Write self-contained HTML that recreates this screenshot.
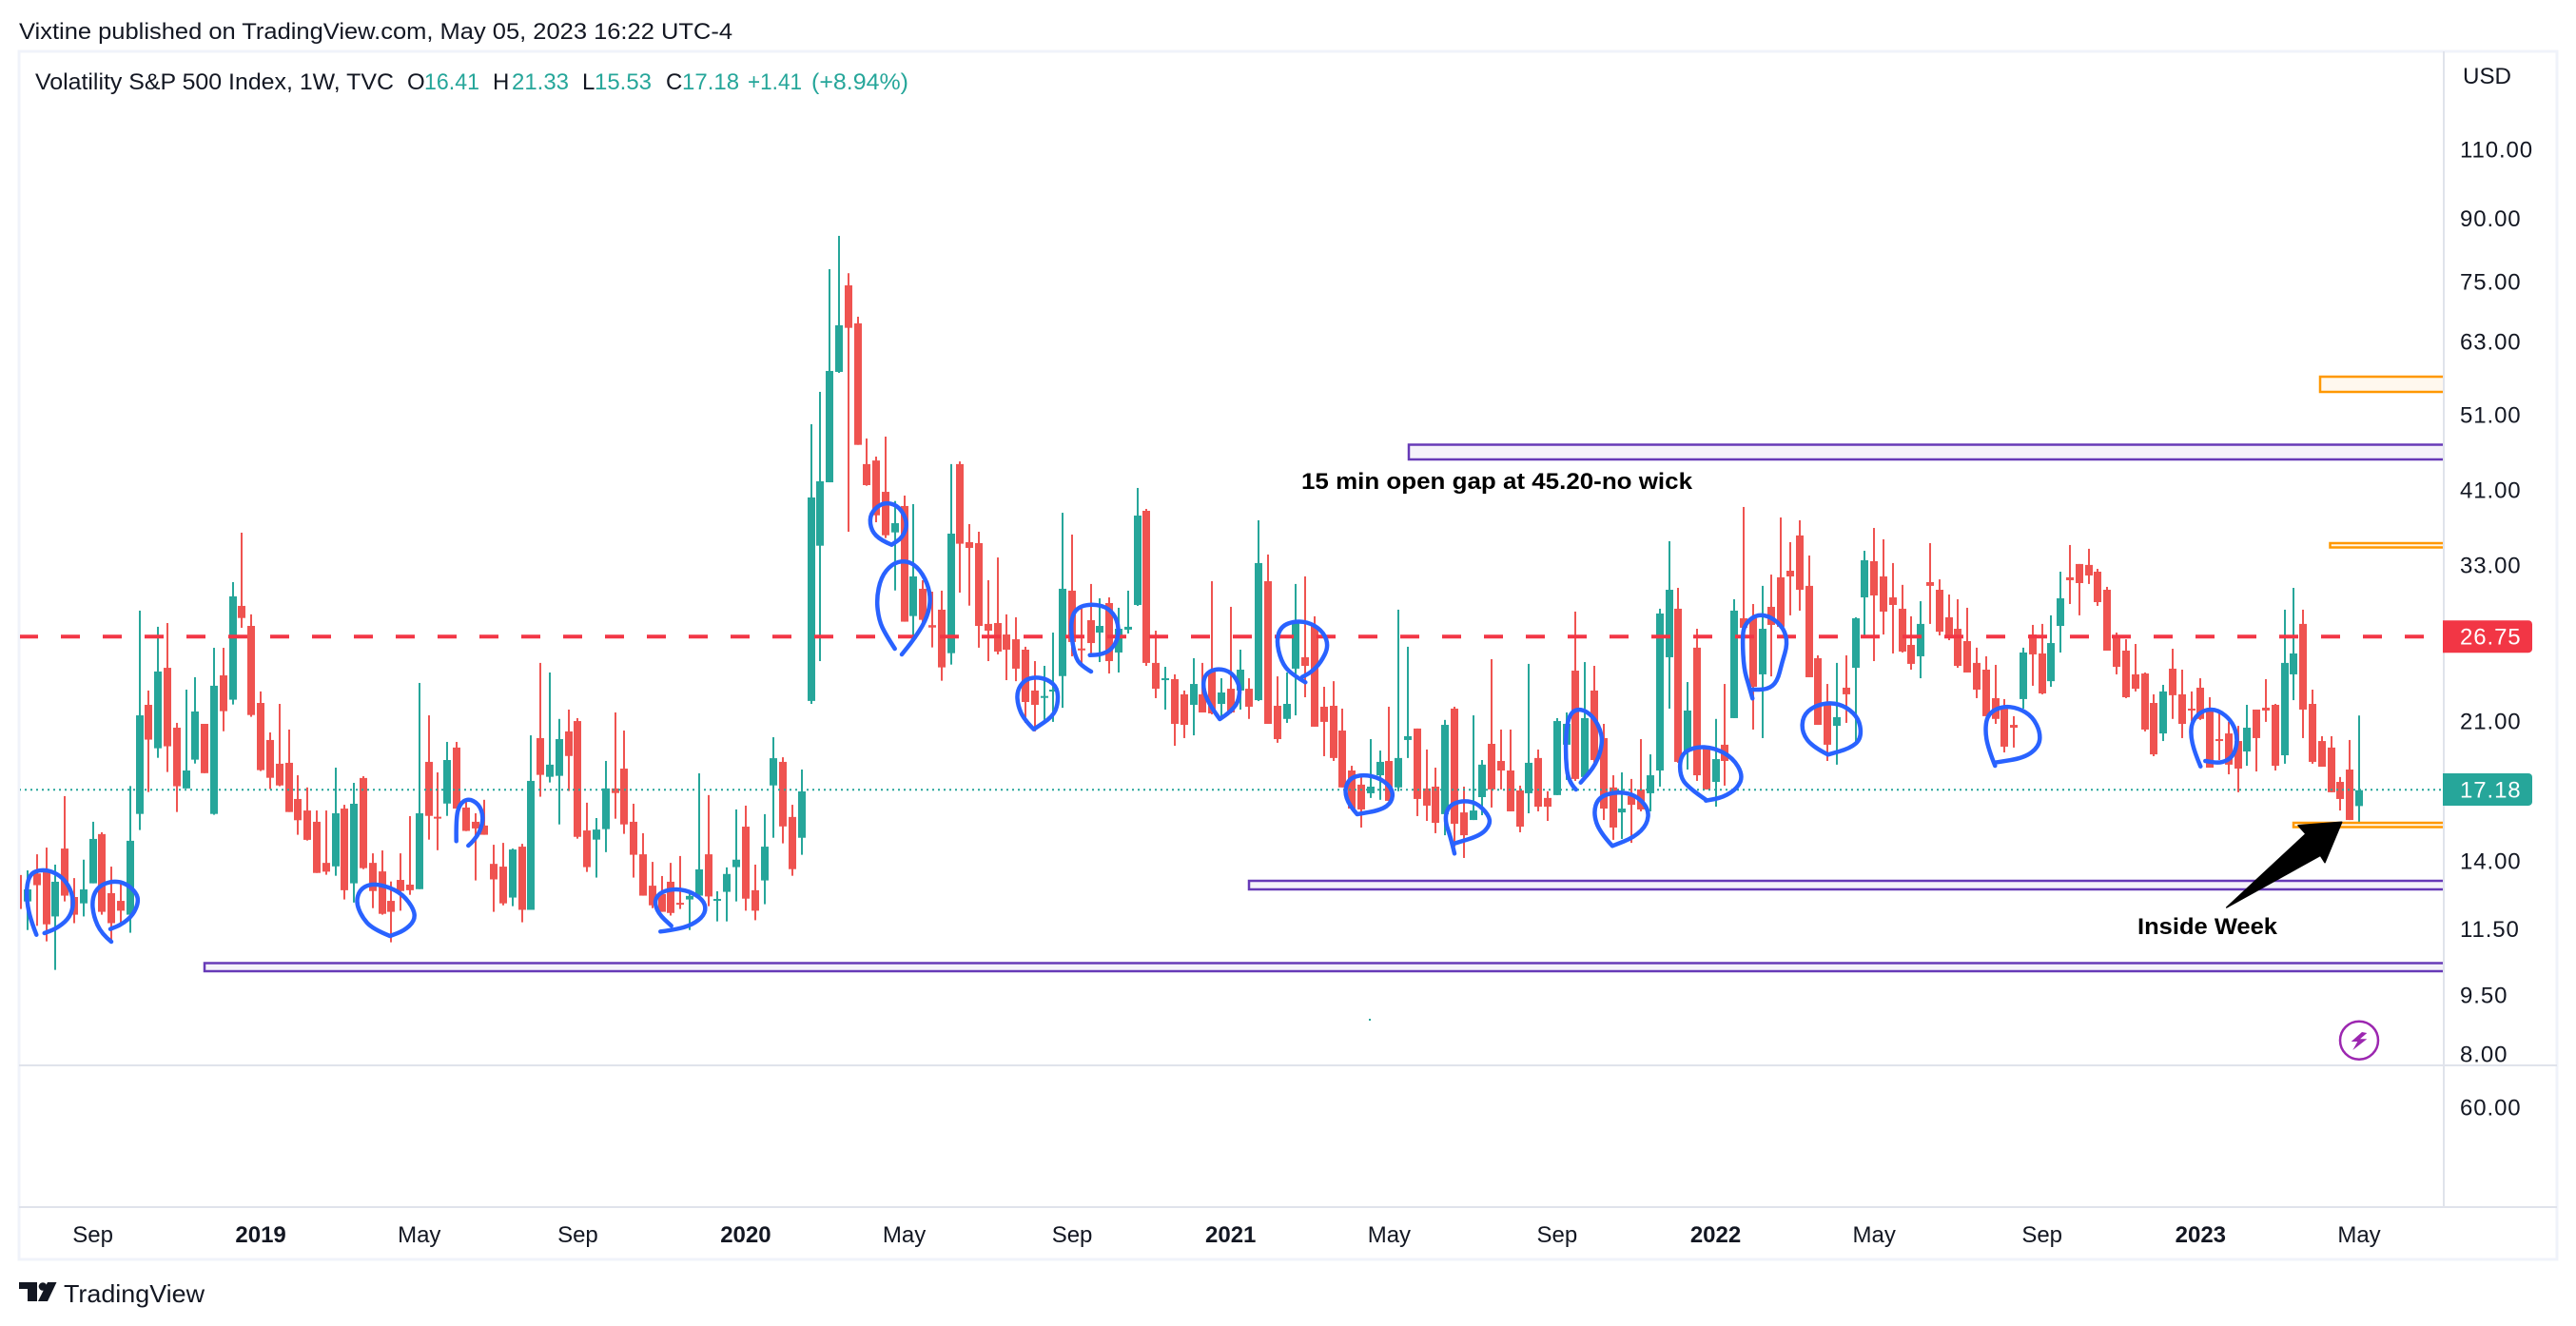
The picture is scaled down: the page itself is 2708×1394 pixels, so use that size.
<!DOCTYPE html>
<html lang="en">
<head>
<meta charset="utf-8">
<title>Volatility S&amp;P 500 Index, 1W, TVC</title>
<style>
html,body{margin:0;padding:0;background:#fff;width:2708px;height:1394px;overflow:hidden}
svg{position:absolute;left:0;top:0;display:block}
text{font-family:"Liberation Sans",Arial,sans-serif;fill:#131722}
</style>
</head>
<body>
<svg id="chart" xmlns="http://www.w3.org/2000/svg" width="2708" height="1394" viewBox="0 0 2708 1394">
  <defs>
    <clipPath id="pane-clip"><rect x="21" y="55" width="2547" height="1065"/></clipPath>
  </defs>
  <rect x="0" y="0" width="2708" height="1394" fill="#ffffff"/>
  <text x="20" y="41" font-size="24" textLength="750" lengthAdjust="spacingAndGlyphs">Vixtine published on TradingView.com, May 05, 2023 16:22 UTC-4</text>

  <rect x="20" y="54" width="2668" height="1270" fill="#ffffff" stroke="#f0f3fa" stroke-width="3"/>

  <g id="candles" clip-path="url(#pane-clip)"></g>
  <g id="levels" clip-path="url(#pane-clip)"></g>
  <g id="strokes" fill="none" stroke="#2962ff" stroke-width="4.5" stroke-linecap="round" stroke-linejoin="round"></g>

  <rect x="1439" y="1071" width="2" height="2" fill="#26a69a"/>

  <text x="1368" y="514" font-size="24" font-weight="bold" fill="#000" style="fill:#000" textLength="411" lengthAdjust="spacingAndGlyphs">15 min open gap at 45.20-no wick</text>
  <text x="2247" y="982" font-size="24" font-weight="bold" style="fill:#000" textLength="147" lengthAdjust="spacingAndGlyphs">Inside Week</text>
  <polygon points="2461.7,864.3 2416,867.7 2424,876.7 2340.7,954 2439.3,899.3 2444,906.7" fill="#000" stroke="#000" stroke-width="1.5" stroke-linejoin="round"/>

  <g>
    <circle cx="2480" cy="1093.7" r="20" fill="#fff" stroke="#9c27b0" stroke-width="2.5"/>
    <polygon points="2483,1085 2471.7,1095 2478.3,1095 2473.3,1104 2488.3,1092.3 2481,1092.3 2488.3,1086" fill="#9c27b0"/>
  </g>

  <line x1="2569" y1="54" x2="2569" y2="1269" stroke="#e0e3eb" stroke-width="2"/>
  <line x1="20" y1="1120" x2="2688" y2="1120" stroke="#e0e3eb" stroke-width="2"/>
  <line x1="20" y1="1269" x2="2688" y2="1269" stroke="#e0e3eb" stroke-width="2"/>

  <g id="legend">
    <text x="37" y="94" font-size="24" textLength="377" lengthAdjust="spacingAndGlyphs">Volatility S&amp;P 500 Index, 1W, TVC</text>
    <text x="428" y="94" font-size="24">O</text>
    <text x="446" y="94" font-size="24" style="fill:#26a69a" textLength="58" lengthAdjust="spacingAndGlyphs">16.41</text>
    <text x="518" y="94" font-size="24">H</text>
    <text x="538" y="94" font-size="24" style="fill:#26a69a" textLength="60" lengthAdjust="spacingAndGlyphs">21.33</text>
    <text x="612" y="94" font-size="24">L</text>
    <text x="625" y="94" font-size="24" style="fill:#26a69a" textLength="60" lengthAdjust="spacingAndGlyphs">15.53</text>
    <text x="700" y="94" font-size="24">C</text>
    <text x="717" y="94" font-size="24" style="fill:#26a69a">17.18</text>
    <text x="786" y="94" font-size="24" style="fill:#26a69a" textLength="57" lengthAdjust="spacingAndGlyphs">+1.41</text>
    <text x="853" y="94" font-size="24" style="fill:#26a69a" textLength="102" lengthAdjust="spacingAndGlyphs">(+8.94%)</text>
  </g>

  <text x="2589" y="88" font-size="24" textLength="51" lengthAdjust="spacingAndGlyphs">USD</text>
  <g id="price-axis"></g>
  <g id="time-axis"></g>

  <g>
    <path d="M20 1348H39V1368H29V1355H20Z" fill="#131722"/>
    <circle cx="45" cy="1352.5" r="4.3" fill="#131722"/>
    <path d="M50 1348H59.5L50 1368H40Z" fill="#131722"/>
    <text x="67" y="1369" font-size="26" textLength="148" lengthAdjust="spacingAndGlyphs">TradingView</text>
  </g>
</svg>

<script>
var opens = [
13.44,12.45,13.50,13.56,11.92,14.51,12.61,12.38,13.12,15.13,
12.75,12.47,11.98,16.04,22.00,19.40,24.49,20.59,17.27,18.77,
20.82,16.04,23.96,22.33,29.30,27.65,22.12,19.87,18.55,18.60,
16.75,16.20,15.68,13.92,13.78,16.29,13.12,17.80,13.92,13.58,
12.47,13.25,13.07,12.90,18.65,15.91,16.53,19.44,16.34,15.68,
15.51,13.88,13.77,12.59,14.59,12.15,19.98,17.86,17.91,20.37,
20.99,15.29,14.89,15.35,17.27,18.29,15.68,14.27,13.03,12.72,
13.18,12.40,12.52,12.66,14.27,12.49,12.80,13.75,15.46,12.86,
13.23,17.42,18.65,15.90,14.97,22.25,34.88,41.91,57.70,74.14,
66.41,44.18,44.64,40.77,36.25,39.13,28.45,30.79,27.71,28.98,
25.55,44.18,35.24,35.14,27.81,27.88,26.97,26.60,25.81,22.93,
22.49,22.87,23.91,30.62,25.90,28.11,27.12,29.54,25.60,27.35,
29.38,38.59,24.84,23.63,23.70,22.68,22.00,22.68,24.29,22.06,
23.05,22.93,23.05,22.30,31.47,21.94,21.12,24.43,25.25,27.65,
21.88,21.94,20.42,18.19,17.46,17.03,17.94,18.70,17.32,19.87,
20.54,17.27,17.36,16.03,21.76,16.11,15.76,16.84,19.65,18.70,
18.19,17.17,17.03,18.86,16.80,16.94,19.60,24.29,17.85,22.93,
19.98,17.32,16.11,16.89,17.22,17.03,18.19,25.25,29.06,19.22,
25.96,19.38,17.60,19.60,21.17,28.27,28.27,24.03,29.22,31.83,
32.44,35.93,31.05,25.18,22.06,20.70,23.12,24.49,30.03,33.35,
31.91,30.03,29.06,26.17,25.32,31.39,30.70,28.35,27.42,26.46,
24.84,24.36,22.43,21.76,20.76,22.37,26.97,25.53,23.56,27.65,
31.83,33.08,32.99,32.35,30.70,26.83,25.74,24.03,24.09,22.12,
20.25,24.43,22.68,21.76,23.12,21.64,19.92,20.25,19.81,19.22,
21.70,21.82,22.00,19.01,24.03,27.81,22.06,19.81,19.44,17.60,18.24,16.41
];
var highs = [
13.44,13.62,14.27,14.55,13.85,16.89,13.32,14.05,15.68,15.21,
13.77,13.19,17.39,28.90,22.93,27.58,27.88,20.88,22.99,23.83,
20.82,25.95,25.95,31.39,36.22,28.59,22.87,20.31,22.06,20.48,
17.94,17.32,16.20,16.20,18.34,16.47,17.55,17.89,14.31,14.43,
13.19,14.31,15.94,23.44,21.34,18.09,19.76,19.76,16.67,16.07,
16.71,14.67,14.75,14.51,14.71,20.14,24.84,24.16,21.12,21.70,
21.17,16.57,15.85,18.70,21.52,20.42,16.52,15.17,13.96,13.40,
13.92,14.20,12.72,18.04,16.94,12.82,13.74,16.25,16.43,13.85,
16.03,20.03,18.90,16.47,18.24,49.59,54.46,77.70,85.56,76.79,
67.70,47.58,45.15,47.84,39.70,40.33,39.34,31.56,30.53,30.62,
44.18,44.52,37.13,36.32,31.56,33.71,28.59,28.35,26.03,24.97,
24.63,27.12,38.37,36.02,29.06,31.22,29.95,30.03,29.14,30.62,
41.23,38.80,27.27,24.56,24.03,22.93,25.18,24.84,31.47,23.76,
29.22,25.81,23.76,37.54,34.00,23.89,24.16,31.22,31.91,28.43,
23.18,23.56,21.76,18.44,17.85,19.92,19.27,21.88,28.98,26.03,
20.54,19.33,18.34,21.06,21.88,17.36,21.34,18.75,25.11,20.48,
20.48,17.41,24.77,19.33,17.13,21.17,21.52,28.82,24.90,24.63,
20.82,17.94,18.09,17.75,19.92,19.06,29.06,35.34,30.87,23.50,
27.42,19.38,21.12,23.37,29.87,39.02,29.46,31.05,32.08,37.85,
35.24,37.54,33.90,25.39,23.37,24.84,25.39,28.35,34.37,36.72,
35.53,33.17,31.14,28.43,29.70,35.14,31.64,30.28,29.87,29.14,
25.96,25.32,24.70,22.37,21.29,25.96,27.73,27.81,28.51,32.35,
34.95,33.08,34.57,32.62,30.96,27.12,26.60,26.24,24.16,22.68,
23.31,25.88,24.36,22.87,23.76,22.49,21.58,20.94,20.70,22.00,
21.70,23.70,22.06,28.98,30.87,28.98,22.99,20.09,20.09,17.85,19.87,21.33
];
var lows = [
12.18,11.46,11.60,11.09,10.21,12.45,11.69,11.92,13.12,11.98,
11.08,11.65,11.37,15.31,17.09,18.87,18.11,16.13,17.27,18.56,
18.05,16.00,20.38,22.02,27.50,21.25,18.16,17.24,17.38,16.13,
15.10,14.85,13.52,13.45,13.41,12.52,12.41,13.67,12.21,11.98,
11.06,12.12,12.69,12.90,14.89,14.44,15.95,16.29,15.26,13.23,
15.10,12.08,12.31,12.28,11.72,12.15,16.86,17.57,15.56,17.14,
14.93,13.56,13.34,14.36,15.82,15.14,13.34,12.66,12.21,12.08,
11.95,12.18,11.46,12.66,12.28,11.75,11.75,12.45,12.12,11.79,
12.35,14.97,14.73,13.41,14.25,22.06,24.97,41.91,57.54,36.32,
46.71,41.49,37.33,35.66,30.64,27.99,26.60,27.75,25.98,23.59,
24.72,30.45,29.32,25.96,24.97,25.46,23.63,23.56,20.88,20.37,
21.06,20.94,21.81,25.32,24.84,25.46,24.90,24.09,24.16,27.05,
29.30,24.63,22.43,21.70,19.54,19.98,20.14,21.52,21.40,21.17,
21.46,21.70,21.12,22.24,20.82,19.71,20.88,21.34,22.49,20.65,
18.96,18.70,17.32,16.25,15.42,16.80,16.71,16.66,17.13,18.86,
15.94,15.72,15.17,15.08,14.59,14.12,15.76,15.98,16.34,17.22,
16.16,15.21,16.07,16.16,15.72,16.94,17.70,17.65,17.85,18.55,
15.76,14.88,14.92,14.75,16.16,16.16,17.36,21.76,18.60,18.24,
17.65,17.22,16.38,17.41,21.17,27.50,20.48,19.98,23.89,27.50,
28.51,28.90,23.83,20.76,18.70,18.50,20.88,19.76,26.75,24.97,
26.97,25.53,25.60,24.36,23.76,27.81,26.90,26.53,24.49,24.16,
22.43,21.29,20.82,19.17,19.44,21.76,23.25,22.68,23.18,25.60,
29.46,28.51,31.22,29.30,25.74,24.03,22.43,22.87,20.37,18.96,
19.81,21.12,19.98,20.99,21.06,18.34,18.75,17.99,17.08,18.44,
18.14,20.94,18.19,18.55,22.30,19.98,18.55,18.39,17.08,16.20,15.76,15.53
];
var closes = [
12.18,12.89,13.05,11.65,13.18,12.66,11.98,12.89,14.92,12.08,
11.69,12.12,14.84,21.34,19.89,24.23,19.51,17.38,18.19,21.58,
18.05,23.25,21.60,30.12,28.29,21.36,18.21,17.81,17.42,16.13,
15.75,14.88,13.52,13.57,16.07,12.86,16.52,13.71,12.83,12.01,
12.08,12.83,12.86,16.07,15.95,15.85,18.75,16.29,15.27,15.38,
15.10,13.27,12.38,14.47,12.15,17.65,17.96,18.50,19.92,18.97,
15.01,13.75,15.33,17.27,17.04,15.56,14.25,12.66,12.31,12.08,
12.04,12.35,12.65,13.66,12.63,12.54,13.48,14.05,12.55,12.12,
14.59,18.85,15.47,13.67,17.12,40.11,42.03,57.86,66.04,65.55,
46.71,41.57,38.09,35.95,37.23,27.99,31.91,28.14,27.52,24.52,
36.12,35.08,34.66,27.65,27.27,25.67,25.81,24.43,22.18,22.00,
22.57,22.99,30.79,26.39,25.81,26.31,27.65,24.97,27.42,27.58,
38.06,24.84,23.05,23.76,20.82,20.76,23.37,21.52,21.46,22.80,
21.52,24.36,21.88,33.17,20.82,19.92,22.06,27.88,24.63,20.65,
20.94,18.86,17.32,16.29,16.25,17.36,18.65,16.66,18.86,20.09,
16.75,16.43,15.63,20.76,15.59,15.08,16.20,18.50,17.22,18.19,
16.16,15.46,18.60,16.38,16.38,20.99,20.82,17.75,21.17,18.75,
16.29,15.42,16.29,16.47,16.25,17.94,28.66,30.70,18.65,21.64,
17.94,17.22,18.80,18.70,28.90,27.50,23.18,27.42,27.73,27.58,
31.91,30.70,23.83,20.76,19.60,21.23,22.68,28.27,33.44,30.20,
28.82,29.38,25.67,24.77,27.81,31.05,27.19,26.68,24.63,24.16,
22.99,21.29,21.12,19.49,20.59,25.60,25.46,22.74,26.31,29.95,
31.56,31.30,32.00,29.62,25.74,24.56,22.49,23.05,20.48,19.06,
22.87,22.62,20.82,21.64,21.12,18.34,19.81,18.50,18.29,20.59,
19.98,21.64,18.44,24.84,25.53,21.70,18.65,18.39,17.08,16.75,15.76,17.18
];
var priceTicks = [110, 90, 75, 63, 51, 41, 33, 21, 14, 11.5, 9.5, 8];
var priceTickLabels = ["110.00", "90.00", "75.00", "63.00", "51.00", "41.00", "33.00", "21.00", "14.00", "11.50", "9.50", "8.00"];
var timeTickWeeks = [9, 27, 44, 61, 79, 96, 114, 131, 148, 166, 183, 200, 218, 235, 252];
var timeTickLabels = ["Sep", "2019", "May", "Sep", "2020", "May", "Sep", "2021", "May", "Sep", "2022", "May", "Sep", "2023", "May"];
var resistanceLevel = 26.75;
var lastClose = 17.18;
var volumeScaleLabel = "60.00";

var NS = "http://www.w3.org/2000/svg";
var UP = "#26a69a", DOWN = "#ef5350";

function xAt(week) { return 2480 - (252 - week) * 9.804; }
function yAt(price) { return 515 + (Math.log(41) - Math.log(price)) * 363; }
function mk(tag, attrs, parent) {
  var el = document.createElementNS(NS, tag);
  for (var k in attrs) el.setAttribute(k, attrs[k]);
  parent.appendChild(el);
  return el;
}

var candleLayer = document.getElementById("candles");
closes.forEach(function (c, i) {
  var o = opens[i], h = highs[i], l = lows[i];
  var color = c >= o ? UP : DOWN;
  var cx = Math.round(xAt(i + 1));
  var g = mk("g", {}, candleLayer);
  
  
  var wick = mk("rect", { x: cx - 1, y: yAt(h), width: 2, height: Math.max(yAt(l) - yAt(h), 1), fill: color }, g);
  
  
  var top = yAt(Math.max(o, c)), bot = yAt(Math.min(o, c));
  var body = mk("rect", { x: cx - 4, y: top, width: 8, height: Math.max(bot - top, 2), fill: color }, g);
  
  
});

var levelLayer = document.getElementById("levels");
var dashed = mk("line", { x1: 20, x2: 2568, y1: yAt(resistanceLevel) - 0.8, y2: yAt(resistanceLevel) - 0.8, stroke: "#f23645", "stroke-width": 4, "stroke-dasharray": "20 24" }, levelLayer);


var dotted = mk("line", { x1: 20, x2: 2568, y1: yAt(lastClose) - 0.5, y2: yAt(lastClose) - 0.5, stroke: UP, "stroke-width": 2, "stroke-dasharray": "2 4" }, levelLayer);



function zone(name, x, y, h, color, fill) {
  var r = mk("path", { d: "M2568 " + y + "H" + x + "V" + (y + h) + "H2568", fill: fill, stroke: color, "stroke-width": 2.5 }, levelLayer);
  return r;
}
var zoneA = zone("z", 215, 1012.5, 8.5, "#673ab7", "#f5f2fa");


var zoneB = zone("z", 1313, 926, 9, "#673ab7", "#f5f2fa");


var zoneC = zone("z", 1481, 467.5, 15.5, "#673ab7", "#f5f2fa");


var zoneD = zone("z", 2439, 396, 16, "#ff9800", "#fff8ee");


var zoneE = zone("z", 2449.5, 571, 4.5, "#ff9800", "#fff8ee");


var zoneF = zone("z", 2411, 865, 4.5, "#ff9800", "#fff8ee");



/* Freehand blue annotations (not chart data). */
var circleStrokes = [
 [15,540,[70,1328,55,1290,42,1240,38,1180,50,1135,85,1122,125,1130,160,1155,182,1195,187,1240,170,1280,130,1310,95,1323]],
 [15,540,[306,1350,275,1325,250,1270,245,1215,265,1175,310,1158,350,1165,385,1195,392,1225,375,1265,340,1295,303,1310]],
 [15,540,[1185,1332,1130,1310,1095,1270,1078,1225,1090,1185,1125,1167,1175,1175,1225,1200,1262,1250,1262,1285,1230,1315,1185,1332]],
 [15,540,[1394,1033,1393,960,1405,915,1432,898,1465,915,1480,955,1470,1000,1450,1030,1432,1047]],
 [505,540,[568,1318,630,1310,680,1290,710,1260,708,1225,670,1195,620,1182,570,1192,548,1220,560,1260,602,1300]],
 [0,0,[2812,1718,2778,1704,2748,1674,2742,1629,2766,1596,2799,1584,2838,1599,2863,1650,2847,1695,2812,1718]],
 [0,0,[2822,2046,2793,2001,2772,1956,2764,1890,2778,1821,2812,1779,2853,1767,2892,1785,2926,1839,2936,1899,2919,1959,2880,2019,2844,2064]],
 [995,500,[275,800,245,770,225,725,222,680,245,645,280,635,320,643,350,670,352,720,335,760,275,800]],
 [995,500,[456,618,425,600,405,570,393,500,395,440,420,412,465,405,510,417,540,455,543,510,520,550,485,565,452,566]],
 [995,500,[1132,652,1085,625,1055,585,1040,520,1055,475,1100,458,1150,465,1190,495,1205,540,1180,590,1150,620,1122,635]],
 [995,500,[862,768,830,725,808,670,815,625,855,607,900,620,927,665,920,715,895,745,862,768]],
 [995,500,[1295,1068,1270,1040,1255,995,1270,955,1315,942,1370,955,1408,990,1405,1030,1370,1055,1295,1068]],
 [1485,500,[132,1192,120,1140,102,1090,110,1045,150,1025,200,1030,240,1070,245,1100,215,1135,132,1160]],
 [1485,500,[515,990,490,965,482,880,485,790,500,745,530,735,565,755,590,795,600,840,580,910,530,968]],
 [1485,500,[630,1168,590,1125,570,1065,585,1015,640,997,700,1005,745,1050,740,1100,700,1140,630,1168]],
 [1485,500,[925,1022,870,985,842,945,845,880,890,855,950,858,1010,890,1042,945,1025,985,980,1015,925,1025]],
 [1485,500,[1072,703,1060,660,1045,610,1040,520,1045,470,1085,437,1130,445,1170,480,1183,530,1165,590,1150,650,1120,675,1065,675]],
 [1485,500,[1310,880,1260,855,1228,810,1230,760,1265,727,1320,715,1370,730,1410,770,1415,830,1380,860,1310,880]],
 [1975,500,[367,915,345,860,335,800,345,750,390,727,440,733,485,760,510,810,505,855,460,890,367,905]],
 [1975,500,[1015,917,995,870,983,815,990,770,1025,738,1070,738,1115,775,1133,830,1120,885,1080,908,1030,900]]
];
var strokeLayer = document.getElementById("strokes");
circleStrokes.forEach(function (s) {
  var px = [];
  for (var i = 0; i < s[2].length; i += 2) px.push([s[0] + s[2][i] / 3, s[1] + s[2][i + 1] / 3]);
  var d = "M" + px[0][0].toFixed(1) + " " + px[0][1].toFixed(1);
  for (var j = 1; j < px.length - 1; j++) {
    var mx = (px[j][0] + px[j + 1][0]) / 2, my = (px[j][1] + px[j + 1][1]) / 2;
    d += "Q" + px[j][0].toFixed(1) + " " + px[j][1].toFixed(1) + " " + mx.toFixed(1) + " " + my.toFixed(1);
  }
  var last = px[px.length - 1];
  d += "L" + last[0].toFixed(1) + " " + last[1].toFixed(1);
  var p = mk("path", { d: d }, strokeLayer);
  
  
});

var priceAxis = document.getElementById("price-axis");
priceTicks.forEach(function (v, i) {
  var t = mk("text", { x: 2586, y: yAt(v) + 8.5, "font-size": 24, "letter-spacing": "0.9" }, priceAxis);
  
  
  t.textContent = priceTickLabels[i];
});
var volTick = mk("text", { x: 2586, y: 1172.5, "font-size": 24, "letter-spacing": "0.9" }, priceAxis);


volTick.textContent = volumeScaleLabel;

function priceTag(value, color, nameAttr) {
  var cy = yAt(value) - 0.8;
  var box = mk("path", { d: "M2568 " + (cy - 17) + "H2658a4 4 0 0 1 4 4V" + (cy + 13) + "a4 4 0 0 1 -4 4H2568Z", fill: color }, priceAxis);
  
  
  var label = mk("text", { x: 2586, y: cy + 8.5, "font-size": 24, "letter-spacing": "0.9", style: "fill:#fff" }, priceAxis);
  
  
  label.textContent = value.toFixed(2);
}
priceTag(resistanceLevel, "#f23645", "resistance-price");
priceTag(lastClose, UP, "last-price");

var timeAxis = document.getElementById("time-axis");
timeTickLabels.forEach(function (label, i) {
  var isYear = /^\d+$/.test(label);
  var t = mk("text", { x: xAt(timeTickWeeks[i]), y: 1306, "font-size": 24, "text-anchor": "middle", "font-weight": isYear ? "bold" : "normal" }, timeAxis);
  
  
  t.textContent = label;
});
</script>
</body>
</html>
